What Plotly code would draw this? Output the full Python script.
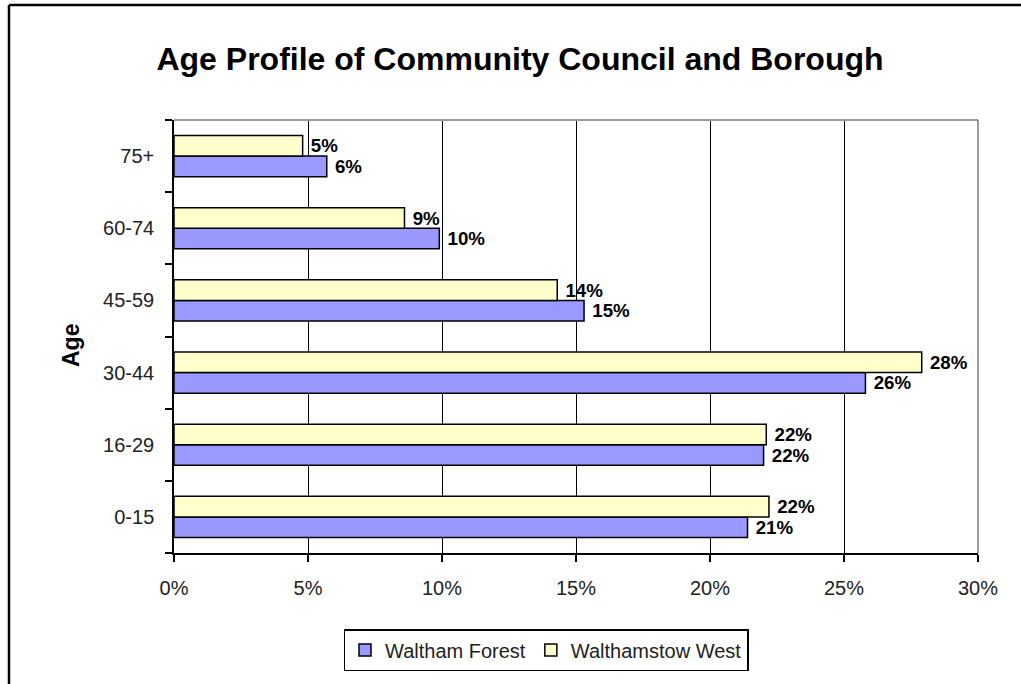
import plotly.graph_objects as go

categories = ["0-15", "16-29", "30-44", "45-59", "60-74", "75+"]
waltham_forest = [21.4, 22.0, 25.8, 15.3, 9.9, 5.7]
walthamstow_west = [22.2, 22.1, 27.9, 14.3, 8.6, 4.8]
x_ticks = [0, 5, 10, 15, 20, 25, 30]
x_tick_labels = ["0%", "5%", "10%", "15%", "20%", "25%", "30%"]

FONT = "Arial, Liberation Sans, sans-serif"

fig = go.Figure()
fig.add_trace(go.Bar(
    y=categories, x=waltham_forest, orientation="h", name="Waltham Forest",
    marker=dict(color="#9999FF", line=dict(color="black", width=1.5)),
    texttemplate=" %{x:.0f}%", textposition="outside",
    textfont=dict(family=FONT, size=20, color="black", weight="bold"),
    cliponaxis=False,
))
fig.add_trace(go.Bar(
    y=categories, x=walthamstow_west, orientation="h", name="Walthamstow West",
    marker=dict(color="#FFFFCC", line=dict(color="black", width=1.5)),
    texttemplate=" %{x:.0f}%", textposition="outside",
    textfont=dict(family=FONT, size=20, color="black", weight="bold"),
    cliponaxis=False,
))

L, R, T, B = 174, 978, 120, 553
W, H = 1021, 684
pw, ph = R - L, B - T

def px(xp):
    return (xp - L) / pw

def py(yp):
    return (B - yp) / ph

fig.update_layout(
    width=W, height=H,
    margin=dict(l=L, r=W - R, t=T, b=H - B),
    paper_bgcolor="white", plot_bgcolor="white",
    barmode="group", bargap=0.43, bargroupgap=0,
    font=dict(family=FONT, size=20, color="#111"),
    title=dict(text="<b>Age Profile of Community Council and Borough</b>",
               x=520 / W, xanchor="center", y=1 - 59 / H, yanchor="middle",
               font=dict(family=FONT, size=32, color="black")),
    xaxis=dict(range=[0, 30], tickmode="array", tickvals=x_ticks, ticktext=x_tick_labels,
               showgrid=True, gridcolor="black", gridwidth=1,
               showline=True, linecolor="black", linewidth=1.5,
               ticks="outside", ticklen=7, tickcolor="black", tickwidth=1.5,
               zeroline=False, tickfont=dict(size=20, color="#222"), ticklabelstandoff=9),
    yaxis=dict(categoryorder="array", categoryarray=categories,
               showline=True, linecolor="black", linewidth=1.5,
               ticks="outside", ticklen=7, tickcolor="black", tickwidth=1.5,
               tickson="boundaries", showgrid=False,
               tickfont=dict(size=20, color="#222"), ticklabelstandoff=14),
    showlegend=True,
    legend=dict(orientation="h", x=px(546), xanchor="center", y=py(650), yanchor="middle",
                bordercolor="black", borderwidth=1.5, bgcolor="white",
                font=dict(family=FONT, size=20, color="#222"),
                traceorder="normal", itemwidth=30),
    annotations=[dict(text="<b>Age</b>", x=px(71), y=py(346), xref="paper", yref="paper",
                      xanchor="center", yanchor="middle",
                      textangle=-90, showarrow=False,
                      font=dict(family=FONT, size=23, color="black"))],
    shapes=[
        dict(type="line", xref="paper", yref="paper", x0=0, x1=1, y0=1, y1=1,
             line=dict(color="#999", width=2)),
        dict(type="line", xref="paper", yref="paper", x0=1, x1=1, y0=0, y1=1,
             line=dict(color="#999", width=2)),
        dict(type="line", xref="paper", yref="paper", x0=px(9), x1=px(1025), y0=py(5), y1=py(5),
             line=dict(color="black", width=2.5)),
        dict(type="line", xref="paper", yref="paper", x0=px(9), x1=px(9), y0=py(5), y1=py(690),
             line=dict(color="black", width=2.5)),
    ],
)

fig.write_html("out.html", config={"displayModeBar": False},
               post_script="document.body.style.margin='0';document.body.style.overflow='hidden';")
